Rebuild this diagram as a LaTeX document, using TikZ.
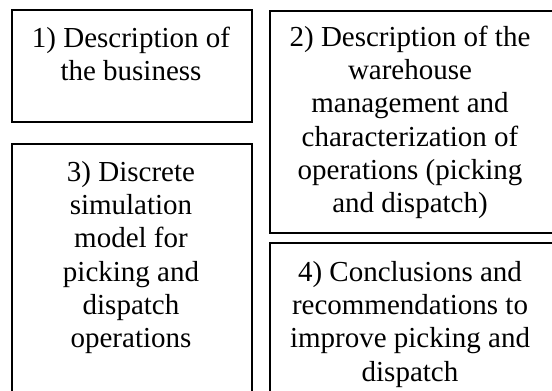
\documentclass[tikz,border=0pt]{standalone}
\usepackage{fontspec}
\setmainfont{Liberation Serif}
\begin{document}
\begin{tikzpicture}[x=1pt,y=-1pt,
  box/.style={draw=black, line width=1.8pt, rectangle, inner sep=0pt, anchor=north west},
  txt/.style={align=center, inner sep=0pt, anchor=north, font=\fontsize{29}{33.3}\selectfont}]
\useasboundingbox (0,0) rectangle (552,391);
\node[box, minimum width=240pt, minimum height=112pt] (b1) at (11,9) {};
\node[box, minimum width=285pt, minimum height=222pt] (b2) at (269,10) {};
\node[box, minimum width=240pt, minimum height=260pt] (b3) at (11,143) {};
\node[box, minimum width=285pt, minimum height=160pt] (b4) at (269,242) {};
\node[txt] (t1) at (131,25) {\rule{0pt}{22pt}1) Description of\\the business};
\node[txt] (t2) at (410,24) {\rule{0pt}{22pt}2) Description of the\\warehouse\\management and\\characterization of\\operations (picking\\and dispatch)};
\node[txt] (t3) at (131,159) {\rule{0pt}{22pt}3) Discrete\\simulation\\model for\\picking and\\dispatch\\operations};
\node[txt] (t4) at (410,259) {\rule{0pt}{22pt}4) Conclusions and\\recommendations to\\improve picking and\\dispatch};
\end{tikzpicture}
\end{document}
